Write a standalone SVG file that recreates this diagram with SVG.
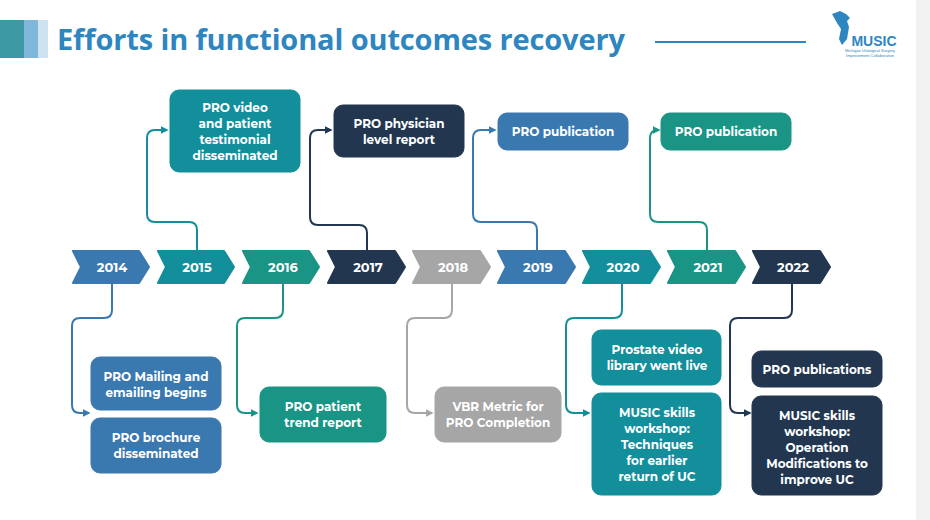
<svg xmlns="http://www.w3.org/2000/svg" width="930" height="520" viewBox="0 0 930 520">
<defs>
<marker id="ab" viewBox="0 0 10 10" refX="8" refY="5" markerWidth="4" markerHeight="4" orient="auto"><path d="M0,0L10,5L0,10z" fill="#3a78b0"/></marker>
<marker id="at" viewBox="0 0 10 10" refX="8" refY="5" markerWidth="4" markerHeight="4" orient="auto"><path d="M0,0L10,5L0,10z" fill="#138e9b"/></marker>
<marker id="ag" viewBox="0 0 10 10" refX="8" refY="5" markerWidth="4" markerHeight="4" orient="auto"><path d="M0,0L10,5L0,10z" fill="#1a9484"/></marker>
<marker id="an" viewBox="0 0 10 10" refX="8" refY="5" markerWidth="4" markerHeight="4" orient="auto"><path d="M0,0L10,5L0,10z" fill="#22374f"/></marker>
<marker id="ay" viewBox="0 0 10 10" refX="8" refY="5" markerWidth="4" markerHeight="4" orient="auto"><path d="M0,0L10,5L0,10z" fill="#a6a6a6"/></marker>
</defs>
<style>
.t{font-family:"Montserrat","Open Sans","Liberation Sans",sans-serif;font-weight:700;fill:#fff;text-anchor:middle}
.y{font-size:13px}.b{font-size:12px}
.c{fill:none;stroke-width:2}
.B{fill:#3a78b0;stroke:#3a78b0}.T{fill:#138e9b;stroke:#138e9b}.G{fill:#1a9484;stroke:#1a9484}.N{fill:#22374f;stroke:#22374f}.Y{fill:#a6a6a6;stroke:#a6a6a6}
</style>
<rect width="930" height="520" fill="#fff"/>
<rect x="916" y="0" width="14" height="520" fill="#f2f2f2"/>
<g id="header">
<rect x="0" y="20" width="24" height="38" fill="#3d9aa5"/>
<rect x="24" y="20" width="14" height="38" fill="#7fb7d8"/>
<rect x="38" y="20" width="10" height="38" fill="#cfe2f0"/>
<text x="57" y="50" font-family="Open Sans,Liberation Sans,sans-serif" font-weight="700" font-size="29" fill="#2e86c1" textLength="568">Efforts in functional outcomes recovery</text>
<line x1="655" y1="42" x2="806" y2="42" stroke="#2e86c1" stroke-width="2"/>
<path d="M832,14 l8,-3 6,3 4,4 -3,3 2,6 -2,12 -5,6 -3,-6 2,-10 -4,-6 z" fill="#2e86c1"/>
<text x="874" y="46" font-family="Liberation Sans,sans-serif" font-weight="700" font-size="14" fill="#2e86c1" text-anchor="middle">MUSIC</text>
<text x="870" y="52" font-family="Liberation Sans,sans-serif" font-size="4" fill="#2e86c1" text-anchor="middle">Michigan Urological Surgery</text>
<text x="870" y="57" font-family="Liberation Sans,sans-serif" font-size="4" fill="#2e86c1" text-anchor="middle">Improvement Collaborative</text>
</g>
<g id="connectors">
<path class="c" stroke="#3a78b0" marker-end="url(#ab)" d="M112,284V310Q112,318 104,318H80Q72,318 72,326V405Q72,413 80,413H89"/>
<path class="c" stroke="#138e9b" marker-end="url(#at)" d="M197,250V230Q197,222 189,222H155Q147,222 147,214V138Q147,130 155,130H167"/>
<path class="c" stroke="#1a9484" marker-end="url(#ag)" d="M283,284V310Q283,318 275,318H245Q237,318 237,326V405Q237,413 245,413H257"/>
<path class="c" stroke="#22374f" marker-end="url(#an)" d="M367,250V233Q367,225 359,225H318Q310,225 310,217V138Q310,130 318,130H331"/>
<path class="c" stroke="#a6a6a6" marker-end="url(#ay)" d="M452,284V310Q452,318 444,318H415Q407,318 407,326V405Q407,413 415,413H432"/>
<path class="c" stroke="#3a78b0" marker-end="url(#ab)" d="M537,250V230Q537,222 529,222H481Q473,222 473,214V138Q473,130 481,130H495"/>
<path class="c" stroke="#138e9b" marker-end="url(#at)" d="M622,284V310Q622,318 614,318H574Q566,318 566,326V405Q566,413 574,413H589"/>
<path class="c" stroke="#1a9484" marker-end="url(#ag)" d="M707,250V230Q707,222 699,222H658Q650,222 650,214V138Q650,130 658,130H659"/>
<path class="c" stroke="#22374f" marker-end="url(#an)" d="M792,284V310Q792,318 784,318H738Q730,318 730,326V405Q730,413 738,413H750"/>
</g>
<g id="timeline">
<g id="y2014"><path class="B" stroke-linejoin="round" stroke-width="2" d="M73,251H139L149,267L139,283H73L81,267Z"/><text class="t y" x="112" y="272">2014</text></g>
<g id="y2015"><path class="T" stroke-linejoin="round" stroke-width="2" d="M158,251H224L234,267L224,283H158L166,267Z"/><text class="t y" x="197" y="272">2015</text></g>
<g id="y2016"><path class="G" stroke-linejoin="round" stroke-width="2" d="M243,251H309L319,267L309,283H243L251,267Z"/><text class="t y" x="283" y="272">2016</text></g>
<g id="y2017"><path class="N" stroke-linejoin="round" stroke-width="2" d="M328,251H395L405,267L395,283H328L336,267Z"/><text class="t y" x="368" y="272">2017</text></g>
<g id="y2018"><path class="Y" stroke-linejoin="round" stroke-width="2" d="M413,251H480L490,267L480,283H413L421,267Z"/><text class="t y" x="453" y="272">2018</text></g>
<g id="y2019"><path class="B" stroke-linejoin="round" stroke-width="2" d="M498,251H565L575,267L565,283H498L506,267Z"/><text class="t y" x="538" y="272">2019</text></g>
<g id="y2020"><path class="T" stroke-linejoin="round" stroke-width="2" d="M583,251H650L660,267L650,283H583L591,267Z"/><text class="t y" x="623" y="272">2020</text></g>
<g id="y2021"><path class="G" stroke-linejoin="round" stroke-width="2" d="M668,251H735L745,267L735,283H668L676,267Z"/><text class="t y" x="708" y="272">2021</text></g>
<g id="y2022"><path class="N" stroke-linejoin="round" stroke-width="2" d="M753,251H820L830,267L820,283H753L761,267Z"/><text class="t y" x="793" y="272">2022</text></g>
</g>
<g id="n1"><rect class="B" x="91" y="357" width="130" height="53" rx="9"/><text class="t b" x="156" y="381">PRO Mailing and</text><text class="t b" x="156" y="397">emailing begins</text></g>
<g id="n2"><rect class="B" x="91" y="418" width="130" height="55" rx="9"/><text class="t b" x="156" y="442">PRO brochure</text><text class="t b" x="156" y="458">disseminated</text></g>
<g id="n3"><rect class="T" x="170" y="90" width="130" height="82" rx="9"/><text class="t b" x="235" y="112">PRO video</text><text class="t b" x="235" y="128">and patient</text><text class="t b" x="235" y="144">testimonial</text><text class="t b" x="235" y="160">disseminated</text></g>
<g id="n4"><rect class="G" x="260" y="387" width="126" height="55" rx="9"/><text class="t b" x="323" y="411">PRO patient</text><text class="t b" x="323" y="427">trend report</text></g>
<g id="n5"><rect class="N" x="334" y="105" width="130" height="52" rx="9"/><text class="t b" x="399" y="128">PRO physician</text><text class="t b" x="399" y="144">level report</text></g>
<g id="n6"><rect class="Y" x="435" y="387" width="126" height="55" rx="9"/><text class="t b" x="498" y="411">VBR Metric for</text><text class="t b" x="498" y="427">PRO Completion</text></g>
<g id="n7"><rect class="B" x="498" y="113" width="130" height="37" rx="9"/><text class="t b" x="563" y="136">PRO publication</text></g>
<g id="n8"><rect class="T" x="592" y="330" width="129" height="55" rx="9"/><text class="t b" x="657" y="354">Prostate video</text><text class="t b" x="657" y="370">library went live</text></g>
<g id="n9"><rect class="T" x="592" y="393" width="129" height="102" rx="9"/><text class="t b" x="657" y="417">MUSIC skills</text><text class="t b" x="657" y="433">workshop:</text><text class="t b" x="657" y="449">Techniques</text><text class="t b" x="657" y="465">for earlier</text><text class="t b" x="657" y="481">return of UC</text></g>
<g id="n10"><rect class="G" x="661" y="113" width="130" height="37" rx="9"/><text class="t b" x="726" y="136">PRO publication</text></g>
<g id="n11"><rect class="N" x="752" y="351" width="130" height="36" rx="9"/><text class="t b" x="817" y="374">PRO publications</text></g>
<g id="n12"><rect class="N" x="752" y="396" width="130" height="99" rx="9"/><text class="t b" x="817" y="420">MUSIC skills</text><text class="t b" x="817" y="436">workshop:</text><text class="t b" x="817" y="452">Operation</text><text class="t b" x="817" y="468">Modifications to</text><text class="t b" x="817" y="484">improve UC</text></g>
</svg>
